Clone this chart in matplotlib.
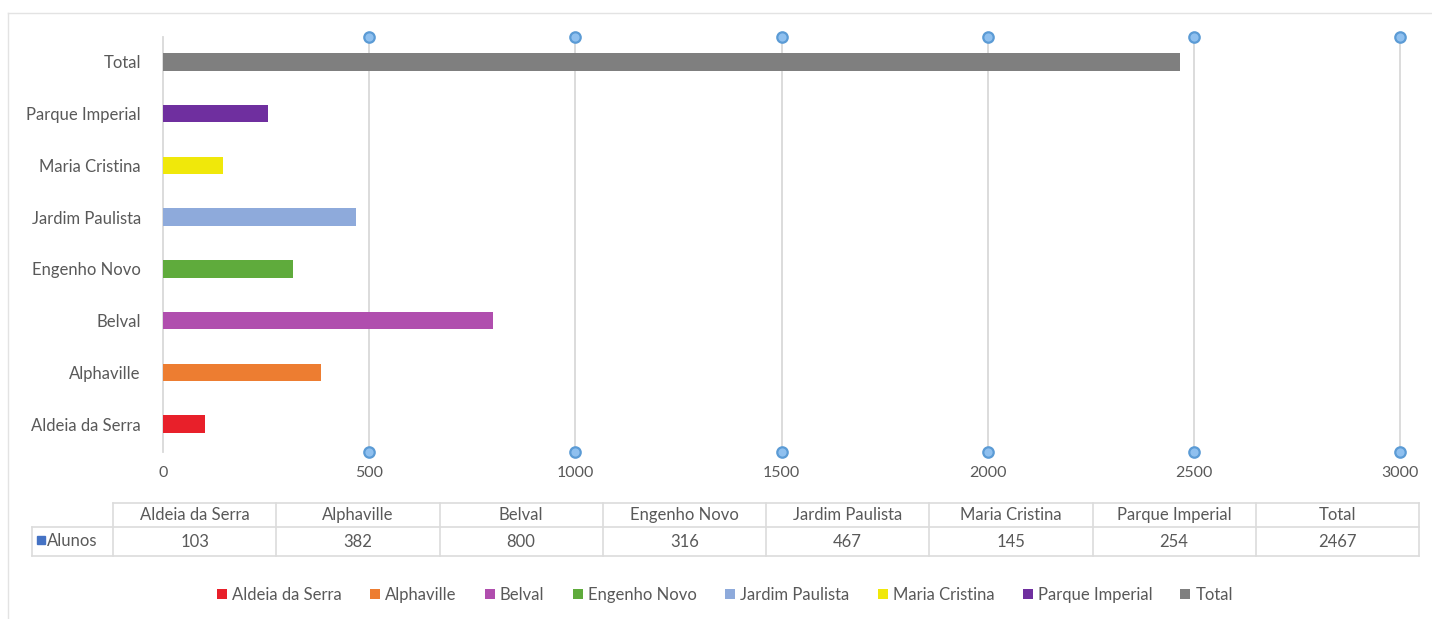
import matplotlib
matplotlib.use("Agg")
import matplotlib.pyplot as plt
from matplotlib.patches import Patch, Rectangle
from matplotlib.lines import Line2D
from matplotlib.transforms import Affine2D

categories = ["Aldeia da Serra", "Alphaville", "Belval", "Engenho Novo",
              "Jardim Paulista", "Maria Cristina", "Parque Imperial", "Total"]
alunos = [103, 382, 800, 316, 467, 145, 254, 2467]
colors = ["#e8202a", "#ed7d31", "#b04eae", "#5fab3c", "#8eaadb",
          "#f0e80a", "#6f2f9f", "#7f7f7f"]
xticks = [0, 500, 1000, 1500, 2000, 2500, 3000]
series_name = "Alunos"

W, H = 1432, 619
plt.rcParams['font.family'] = ['Lato', 'DejaVu Sans']
txt = "#595959"
fs = 12
fig = plt.figure(figsize=(W / 100, H / 100), dpi=100)

# pixel transform (origin top-left)
px = Affine2D().scale(1 / W, -1 / H).translate(0, 1) + fig.transFigure

ax_l, ax_r, ax_t, ax_b = 163, 1400, 36.1, 449.9
ax = fig.add_axes([ax_l / W, 1 - ax_b / H, (ax_r - ax_l) / W, (ax_b - ax_t) / H])
ypos = list(range(len(categories)))
ax.barh(ypos, alunos, height=0.34, color=colors, zorder=3)
ax.set_xlim(0, 3000)
ax.set_ylim(-0.5, len(categories) - 0.5)
for s in ax.spines.values():
    s.set_visible(False)
ax.set_yticks(ypos)
ax.set_yticklabels(categories, fontsize=fs, color=txt)
ax.tick_params(axis='y', length=0, pad=16)
ax.set_xticks([])

ytop, ybot = 7.48, -0.54
for i, v in enumerate(xticks):
    ax.plot([v, v], [ybot, ytop], color="#d9d9d9", lw=1.3, zorder=1, clip_on=False)
    if v > 0:
        ax.plot([v, v], [ytop, ybot], ls='none', marker='o', ms=7.5,
                mfc="#8fc0ef", mec="#5b9bd5", mew=1.6, zorder=4, clip_on=False)
    ax.text(v, -0.95, str(v), ha='center', va='center', fontsize=11.5, color=txt)

# outer frame lines (top and left)
fig.add_artist(Line2D([8, W], [13, 13], transform=px, color="#e3e3e3", lw=1))
fig.add_artist(Line2D([8, 8], [13, H], transform=px, color="#e3e3e3", lw=1))

# data table
tl, first, tr = 32, 113, 1419
t_top, t_mid, t_bot = 503, 526.5, 556
colw = (tr - first) / len(categories)
lc = "#dcdcdc"
fig.add_artist(Line2D([first, tr], [t_top, t_top], transform=px, color=lc, lw=1.2))
fig.add_artist(Line2D([tl, tr], [t_mid, t_mid], transform=px, color=lc, lw=1.2))
fig.add_artist(Line2D([tl, tr], [t_bot, t_bot], transform=px, color=lc, lw=1.2))
fig.add_artist(Line2D([tl, tl], [t_mid, t_bot], transform=px, color=lc, lw=1.2))
for j in range(len(categories) + 1):
    x = first + j * colw
    fig.add_artist(Line2D([x, x], [t_top, t_bot], transform=px, color=lc, lw=1.2))
for j, (c, v) in enumerate(zip(categories, alunos)):
    xc = first + (j + 0.5) * colw
    fig.text(xc, (t_top + t_mid) / 2, c, transform=px, ha='center', va='center',
             fontsize=fs, color=txt)
    fig.text(xc, (t_mid + t_bot) / 2 + 1, str(v), transform=px, ha='center',
             va='center', fontsize=fs, color=txt)
fig.add_artist(Rectangle((37, 536), 8, 8, transform=px, color="#4472c4"))
fig.text(47, (t_mid + t_bot) / 2, series_name, transform=px, ha='left',
         va='center', fontsize=fs, color=txt)

# legend
handles = [Patch(facecolor=c, edgecolor='none', label=n) for c, n in zip(colors, categories)]
leg = fig.legend(handles=handles, loc='center', bbox_to_anchor=(725 / W, 1 - 595 / H),
                 ncol=len(categories), frameon=False, fontsize=fs,
                 handlelength=0.6, handleheight=0.6, handletextpad=0.3,
                 columnspacing=1.7, labelcolor=txt)

fig.savefig("out.png", dpi=100, facecolor="white")
